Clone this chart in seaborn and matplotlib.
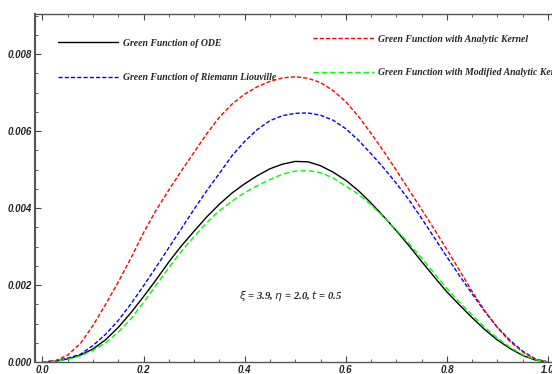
import numpy as np
import pandas as pd
import matplotlib
matplotlib.use("Agg")
import matplotlib.pyplot as plt
import seaborn as sns

# values (step 0.025)
x = [0.0, 0.025, 0.05, 0.075, 0.1, 0.125, 0.15, 0.175, 0.2, 0.225, 0.25,
     0.275, 0.3, 0.325, 0.35, 0.375, 0.4, 0.425, 0.45, 0.475, 0.5,
     0.525, 0.55, 0.575, 0.6, 0.625, 0.65, 0.675, 0.7, 0.725, 0.75,
     0.775, 0.8, 0.825, 0.85, 0.875, 0.9, 0.925, 0.95, 0.975, 1.0]
g_ode = [0.0, 0.00002, 0.00008, 0.00018, 0.00034, 0.00058, 0.00090, 0.00128, 0.00170, 0.00214, 0.00260,
         0.00302, 0.00340, 0.00377, 0.00410, 0.00439, 0.00463, 0.00484, 0.00502, 0.00514, 0.00521,
         0.00520, 0.00510, 0.00493, 0.00472, 0.00445, 0.00413, 0.00378, 0.00341, 0.00302, 0.00261,
         0.00221, 0.00182, 0.00148, 0.00115, 0.00084, 0.00057, 0.00035, 0.00017, 0.00005, 0.0]
g_rl = [0.0, 0.00003, 0.00010, 0.00020, 0.00043, 0.00072, 0.00108, 0.00151, 0.00198, 0.00247, 0.00297,
        0.00347, 0.00397, 0.00445, 0.00490, 0.00536, 0.00573, 0.00604, 0.00627, 0.00640, 0.00646,
        0.00647, 0.00641, 0.00628, 0.00606, 0.00576, 0.00541, 0.00504, 0.00464, 0.00421, 0.00373,
        0.00323, 0.00273, 0.00224, 0.00177, 0.00131, 0.00090, 0.00056, 0.00028, 0.00008, 0.0]
g_ak = [0.0, 0.00003, 0.00018, 0.00048, 0.00095, 0.00150, 0.00208, 0.00270, 0.00336, 0.00395, 0.00447,
        0.00497, 0.00545, 0.00593, 0.00636, 0.00670, 0.00696, 0.00715, 0.00729, 0.00738, 0.00741,
        0.00737, 0.00726, 0.00705, 0.00676, 0.00638, 0.00594, 0.00547, 0.00498, 0.00447, 0.00396,
        0.00345, 0.00292, 0.00238, 0.00183, 0.00133, 0.00089, 0.00053, 0.00026, 0.00007, 0.0]
g_mak = [0.0, 0.00002, 0.00007, 0.00016, 0.00030, 0.00050, 0.00078, 0.00112, 0.00155, 0.00200, 0.00245,
         0.00288, 0.00326, 0.00362, 0.00393, 0.00418, 0.00440, 0.00458, 0.00474, 0.00488, 0.00496,
         0.00497, 0.00492, 0.00478, 0.00457, 0.00436, 0.00408, 0.00377, 0.00343, 0.00308, 0.00270,
         0.00230, 0.00191, 0.00155, 0.00122, 0.00090, 0.00062, 0.00038, 0.00019, 0.00006, 0.0]

labels = ["Green Function of ODE", "Green Function of Riemann Liouville",
          "Green Function with Analytic Kernel", "Green Function with Modified Analytic Kernel"]

sns.set_style("ticks")

fig = plt.figure(figsize=(5.52, 3.74), dpi=100)
ax = fig.add_axes([35 / 552, 12 / 374, 525 / 552, 348 / 374])

styles = [
    (g_ode, "black", None),
    (g_rl, "#0000ff", (3, 1.5)),
    (g_ak, "#ff0000", (3, 1.5)),
    (g_mak, "#00ff00", (4, 2)),
]
handles = []
for (vals, col, dash), lab in zip(styles, labels):
    sns.lineplot(x=x, y=vals, color=col, linewidth=1.0, ax=ax, label=lab, legend=False)
    ln = ax.get_lines()[-1]
    if dash is not None:
        ln.set_dashes(dash)
    handles.append(ln)

ax.set_xlim(-0.0148, 1.0237)
ax.set_ylim(0, 0.00904)
ax.set_xticks([0.0, 0.2, 0.4, 0.6, 0.8, 1.0])
ax.set_xticklabels(["0.0", "0.2", "0.4", "0.6", "0.8", "1.0"])
ax.set_yticks([0.0, 0.002, 0.004, 0.006, 0.008])
ax.set_yticklabels(["0.000", "0.002", "0.004", "0.006", "0.008"])
ax.set_xticks(np.arange(0, 1.01, 0.05), minor=True)
ax.set_yticks(np.arange(0, 0.0091, 0.0005), minor=True)
ax.tick_params(which="both", direction="in", top=True, right=False, color="#444444")
ax.tick_params(which="major", length=4, width=0.8, pad=2)
ax.tick_params(which="minor", length=2, width=0.6)
for lab in ax.get_xticklabels() + ax.get_yticklabels():
    lab.set_fontfamily("Liberation Sans")
    lab.set_fontstyle("italic")
    lab.set_fontweight("bold")
    lab.set_fontsize(7)
    lab.set_color("#222222")
for s in ["left", "bottom", "top", "right"]:
    ax.spines[s].set_color("#555555")
    ax.spines[s].set_linewidth(1.0)
ax.spines["left"].set_linewidth(1.5)

font = {"family": "Liberation Serif", "style": "italic", "weight": "bold", "size": 7}
leg1 = ax.legend(handles=handles[:2], labels=labels[:2], loc="upper left",
                 bbox_to_anchor=(0.044, 0.929), frameon=False, prop=font,
                 handlelength=6.2, handletextpad=0.5, labelspacing=2.6,
                 borderpad=0, borderaxespad=0)
ax.add_artist(leg1)
ax.legend(handles=handles[2:], labels=labels[2:], loc="upper left",
          bbox_to_anchor=(0.53, 0.94), frameon=False, prop=font,
          handlelength=6.2, handletextpad=0.5, labelspacing=2.5,
          borderpad=0, borderaxespad=0)

ax.text(0.49, 0.00171, r"$\xi$ = 3.9, $\eta$ = 2.0, $t$ = 0.5", ha="center", va="center",
        fontfamily="Liberation Serif", fontstyle="italic", fontweight="bold", fontsize=7.7)

fig.savefig("out.png", dpi=100)
